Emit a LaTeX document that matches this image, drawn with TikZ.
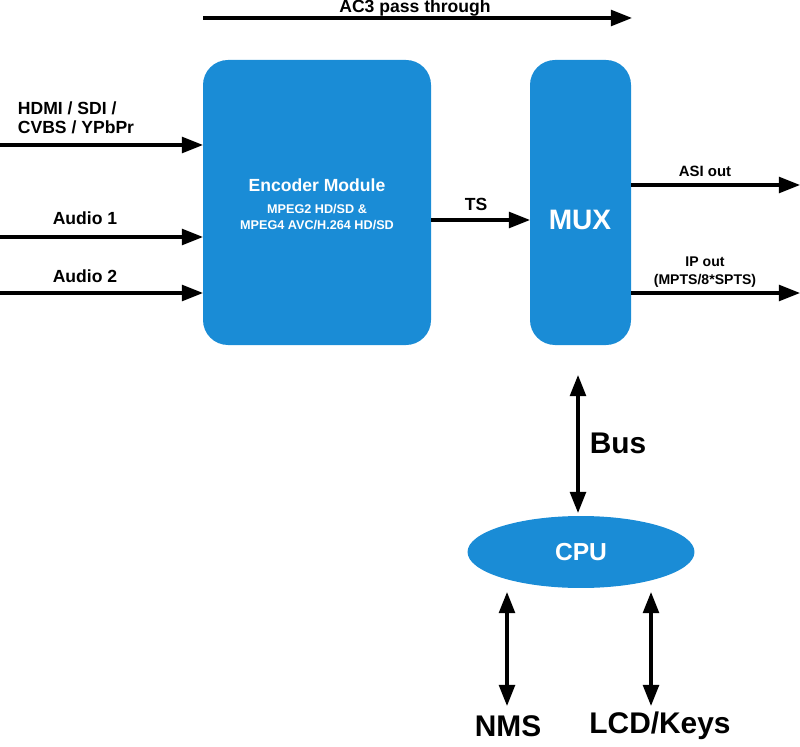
\documentclass[tikz,border=0pt]{standalone}
\usepackage{fontspec}
\setmainfont{Liberation Sans}
\usetikzlibrary{arrows.meta,shapes.geometric}
\definecolor{bl}{RGB}{26,140,214}
\begin{document}
\begin{tikzpicture}[x=0.02cm,y=-0.02cm,
 box/.style={draw=none,fill=bl,rounded corners=0.5cm},
 ar/.style={line width=1.8pt,-{Triangle[length=12pt,width=9pt]}},
 dar/.style={line width=1.8pt,{Triangle[length=12pt,width=9pt]}-{Triangle[length=12pt,width=9pt]}},
 lab/.style={font=\bfseries\fontsize{10}{11}\selectfont},
 wt/.style={text=white,font=\bfseries\fontsize{10}{11}\selectfont,align=center}]
\useasboundingbox (0,0) rectangle (800,746);
\fill[box] (203,60) rectangle (431,345);
\fill[box] (530,60) rectangle (631,345);
\node[box,ellipse,fill=bl,minimum width=4.54cm,minimum height=1.44cm,inner sep=0] (cpu) at (581,552) {};
\node[wt] (enc) at (317,185) {Encoder Module};
\node[wt,font=\bfseries\fontsize{7.2}{9}\selectfont] (encs) at (317,217) {MPEG2 HD/SD \&\\MPEG4 AVC/H.264 HD/SD};
\node[wt,font=\bfseries\fontsize{16}{18}\selectfont] (mux) at (580,220) {MUX};
\node[wt,font=\bfseries\fontsize{14}{16}\selectfont] at (cpu) {CPU};
\coordinate (encL1) at (203,145); \coordinate (in1) at (0,145);
\coordinate (encL2) at (203,237); \coordinate (in2) at (0,237);
\coordinate (encL3) at (203,293); \coordinate (in3) at (0,293);
\draw[ar] (in1) -- (encL1);
\draw[ar] (in2) -- (encL2);
\draw[ar] (in3) -- (encL3);
\node[lab,align=left] (l1) at (76,118) {HDMI / SDI /\\CVBS / YPbPr};
\node[lab] (l2) at (85,218) {Audio 1};
\node[lab] (l3) at (85,276) {Audio 2};
\coordinate (ac1) at (203,18); \coordinate (ac2) at (632,18);
\draw[ar] (ac1) -- (ac2);
\node[lab] at (415,8) {AC3 pass through};
\coordinate (ts1) at (431,220); \coordinate (ts2) at (530,220);
\draw[ar] (ts1) -- (ts2);
\node[lab] at (476,204) {TS};
\coordinate (a1) at (631,185); \coordinate (a2) at (800,185);
\draw[ar] (a1) -- (a2);
\node[lab,font=\bfseries\fontsize{8.5}{10}\selectfont] at (705,171) {ASI out};
\coordinate (i1) at (631,293); \coordinate (i2) at (800,293);
\draw[ar] (i1) -- (i2);
\node[lab,font=\bfseries\fontsize{8}{10}\selectfont,align=center] at (705,272) {IP out\\(MPTS/8*SPTS)};
\coordinate (b1) at (578,375); \coordinate (b2) at (578,513);
\draw[dar] (b1) -- (b2);
\node[font=\bfseries\fontsize{17}{19}\selectfont] at (618,443) {Bus};
\coordinate (n1) at (507,592); \coordinate (n2) at (507,706);
\coordinate (k1) at (651,592); \coordinate (k2) at (651,706);
\draw[dar] (n1) -- (n2);
\draw[dar] (k1) -- (k2);
\node[font=\bfseries\fontsize{17}{19}\selectfont] at (508,726) {NMS};
\node[font=\bfseries\fontsize{17}{19}\selectfont] at (660,726) {LCD/Keys};
\end{tikzpicture}
\end{document}
